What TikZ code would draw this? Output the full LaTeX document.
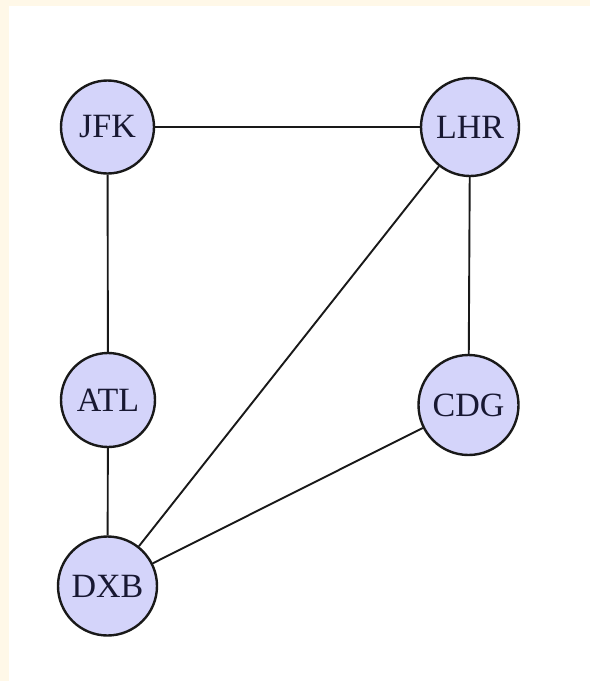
\documentclass[tikz,border=0pt]{standalone}
\usepackage{fontspec}
\setmainfont{Liberation Serif}
\definecolor{pagecream}{RGB}{255,248,232}
\definecolor{nodefill}{RGB}{212,212,250}
\definecolor{nodeink}{RGB}{24,24,50}
\definecolor{edgeink}{RGB}{25,25,25}
\tikzset{
  airport/.style={circle, draw=edgeink, line width=2.4pt, fill=nodefill,
    text=nodeink, inner sep=0pt, font=\fontsize{34}{34}\selectfont},
  route/.style={draw=edgeink, line width=1.9pt}
}
\begin{document}
\begin{tikzpicture}[x=1pt, y=-1pt]
  % page: cream margin strips on top and left, white sheet
  \useasboundingbox (0,0) rectangle (590,681);
  \fill[pagecream] (0,0) rectangle (590,681);
  \fill[white] (9,6) rectangle (590,681);

  % airports
  \node[airport, minimum size=93pt]  (jfk) at (107.5,127) {JFK};
  \node[airport, minimum size=98pt]  (lhr) at (470,127)   {LHR};
  \node[airport, minimum size=94pt]  (atl) at (108,400)   {ATL};
  \node[airport, minimum size=100pt] (cdg) at (468.5,405) {CDG};
  \node[airport, minimum size=99pt]  (dxb) at (107.5,586) {DXB};

  % routes
  \draw[route] (jfk) -- (lhr);
  \draw[route] (jfk) -- (atl);
  \draw[route] (lhr) -- (cdg);
  \draw[route] (lhr) -- (dxb);
  \draw[route] (atl) -- (dxb);
  \draw[route] (cdg) -- (dxb);
\end{tikzpicture}
\end{document}
